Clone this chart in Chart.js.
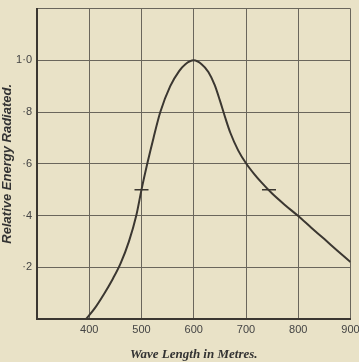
<!DOCTYPE html>
<html>
<head>
<meta charset="utf-8">
<script src="https://cdn.jsdelivr.net/npm/chart.js@4/dist/chart.umd.min.js"></script>
<style>
  html, body { margin: 0; padding: 0; background: #e9e2c7; overflow: hidden; }
  #wrap { width: 359px; height: 365px; margin-top: -3px; }
</style>
</head>
<body>
<div id="wrap"><canvas id="energy"></canvas></div>
<script>
// curve (wave length, relative energy)
var waveLengths = [394, 410, 428, 445, 460, 476, 490, 500, 511, 523, 536, 555, 572, 584, 600, 615, 628, 640, 650, 660, 670, 685, 700, 715, 730, 750, 775, 800, 825, 850, 875, 900];
var energy      = [0, 0.04, 0.096, 0.155, 0.215, 0.3, 0.4, 0.5, 0.6, 0.7, 0.8, 0.9, 0.958, 0.985, 1.0, 0.985, 0.955, 0.905, 0.845, 0.78, 0.72, 0.652, 0.602, 0.562, 0.527, 0.485, 0.44, 0.398, 0.353, 0.309, 0.264, 0.22];
// half-height marks
var halfX = [500, 744];
var halfY = [0.5, 0.5];
// tick labels
var xTicks = {300: '', 400: '400', 500: '500', 600: '600', 700: '700', 800: '800', 900: '900'};
var yTicks = ['', '·2', '·4', '·6', '·8', '1·0', ''];

var ink = '#3b3731';
var gridInk = '#6a665c';

var curve = waveLengths.map(function (w, i) { return {x: w, y: energy[i]}; });
var marks = halfX.map(function (w, i) { return {x: w, y: halfY[i]}; });

document.addEventListener("DOMContentLoaded", function () {
  var ctx = document.getElementById('energy').getContext('2d');
  window.myChart = new Chart(ctx, {
    type: 'line',
    data: {
      datasets: [{
        data: curve,
        borderColor: ink,
        borderWidth: 2,
        pointRadius: 0,
        cubicInterpolationMode: 'monotone',
        fill: false
      }, {
        type: 'scatter',
        data: marks,
        pointStyle: 'line',
        pointRadius: 7,
        borderColor: ink,
        borderWidth: 1.5,
        backgroundColor: ink
      }]
    },
    options: {
      responsive: true,
      maintainAspectRatio: false,
      animation: false,
      layout: { padding: { top: 5, left: 0, right: 0, bottom: 0 } },
      plugins: { legend: { display: false }, tooltip: { enabled: false } },
      scales: {
        x: {
          type: 'linear',
          min: 300, max: 900,
          grid: { color: gridInk, lineWidth: 1, drawTicks: false },
          border: { color: ink, width: 2 },
          ticks: {
            stepSize: 100, padding: 4, color: '#444',
            font: { family: 'Liberation Sans', size: 11 },
            callback: function (v) { return xTicks[v]; }
          },
          title: {
            display: true, text: 'Wave Length in Metres.', color: '#333',
            font: { family: 'Liberation Serif', size: 13, style: 'italic', weight: 'bold' },
            padding: { top: 8, bottom: 0 }
          },
          afterFit: function (s) { s.height = 43; s.paddingRight = 5; s.paddingLeft = 0; }
        },
        y: {
          min: 0, max: 1.2,
          grid: { color: gridInk, lineWidth: 1, drawTicks: false },
          border: { color: ink, width: 2 },
          ticks: {
            stepSize: 0.2, padding: 5, color: '#444',
            font: { family: 'Liberation Sans', size: 11 },
            callback: function (v, i) { return yTicks[i]; }
          },
          title: {
            display: true, text: 'Relative Energy Radiated.', color: '#333',
            font: { family: 'Liberation Sans', size: 13, style: 'italic', weight: 'bold' },
            padding: { top: 0, bottom: 2 }
          },
          afterFit: function (s) { s.width = 37; }
        }
      }
    }
  });
});
</script>
</body>
</html>
